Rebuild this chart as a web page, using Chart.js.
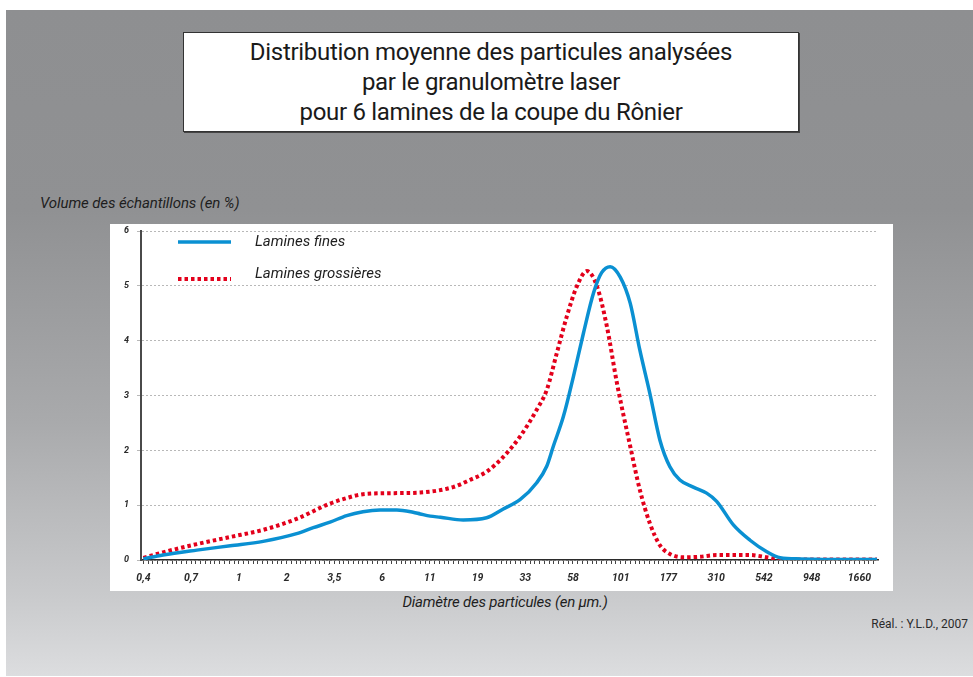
<!DOCTYPE html>
<html lang="fr">
<head>
<meta charset="utf-8">
<title>Distribution moyenne des particules</title>
<script src="https://cdn.jsdelivr.net/npm/chart.js@4.4.1/dist/chart.umd.min.js"></script>
<style>
  body { margin: 0; width: 973px; height: 677px; background: #fff; position: relative; overflow: hidden; font-family: Roboto, "Liberation Sans", sans-serif; }
  #fond { position: absolute; left: 6px; top: 10px; width: 967px; height: 666px;
    background: linear-gradient(to bottom, #8e8f91 0%, #909193 30%, #a9aaac 62%, #c9cacc 88%, #dcdddf 100%); }
  #titre { position: absolute; left: 183px; top: 32px; width: 616px; height: 100px; background: #fff;
    border: 1px solid #333; box-shadow: 1px 1px 0 #444; text-align: center; font-size: 24px; line-height: 30px;
    color: #1a1a1a; padding-top: 4px; box-sizing: border-box; letter-spacing: -0.3px; }
  #titreY { position: absolute; left: 40px; top: 194px; font-size: 15px; font-style: italic; color: #1e1e1e; letter-spacing: -0.1px; }
  #panneau { position: absolute; left: 110px; top: 224px; width: 783px; height: 367px; background: #fff; }
  #titreX { position: absolute; left: 305px; width: 400px; top: 593px; text-align: center; font-size: 15px; font-style: italic; color: #1e1e1e; letter-spacing: -0.2px; }
  #credit { position: absolute; right: 5px; top: 617px; font-size: 12px; color: #2a2a2a; }
</style>
</head>
<body>
<div id="fond"></div>
<div id="titre">Distribution moyenne des particules analysées<br>par le granulomètre laser<br>pour 6 lamines de la coupe du Rônier</div>
<div id="titreY">Volume des échantillons (en %)</div>
<div id="panneau"><canvas id="granuloChart" width="783" height="367"></canvas></div>
<div id="titreX">Diamètre des particules (en µm.)</div>
<div id="credit">Réal. : Y.L.D., 2007</div>

<script>
// Classes de diamètre (µm) : une graduation par classe, espacement logarithmique
const tickLabels = ['0,4', '0,7', '1', '2', '3,5', '6', '11', '19', '33', '58', '101', '177', '310', '542', '948', '1660'];

// Lamines fines : position (en rang de classe) et volume (%)
const finesPos = [0, 0.41, 1.12, 1.82, 2.51, 3.21, 3.56, 3.91, 4.26, 4.60, 4.96, 5.31, 5.65, 5.80, 6.01, 6.22,
  6.70, 7.19, 7.54, 7.89, 8.24, 8.45, 8.59, 8.80, 9.01, 9.22, 9.43, 9.60, 9.78, 9.99, 10.20, 10.40, 10.61,
  10.82, 11.03, 11.24, 11.52, 11.80, 12.01, 12.36, 12.71, 13.06, 13.34, 13.76, 14.6, 15.37];
const finesVol = [0.02, 0.09, 0.18, 0.26, 0.34, 0.48, 0.59, 0.69, 0.81, 0.88, 0.91, 0.91, 0.87, 0.84, 0.80, 0.78,
  0.73, 0.77, 0.93, 1.10, 1.41, 1.71, 2.08, 2.62, 3.35, 4.14, 4.87, 5.24, 5.35, 5.16, 4.68, 3.83, 3.04,
  2.19, 1.70, 1.46, 1.33, 1.22, 1.07, 0.64, 0.36, 0.15, 0.04, 0.02, 0.01, 0.01];

// Lamines grossières
const grossPos = [0, 0.41, 1.12, 1.82, 2.51, 3.21, 3.91, 4.26, 4.60, 5.31, 5.80, 6.49, 6.84, 7.19, 7.54, 7.89,
  8.24, 8.45, 8.66, 8.87, 9.08, 9.29, 9.50, 9.71, 9.92, 10.20, 10.40, 10.61, 10.82, 11.03, 11.31, 11.66,
  12.01, 12.71, 13.06, 13.34, 14.2, 15.37];
const grossVol = [0.04, 0.14, 0.29, 0.42, 0.55, 0.75, 1.03, 1.13, 1.20, 1.22, 1.23, 1.33, 1.46, 1.61, 1.88, 2.25,
  2.74, 3.10, 3.77, 4.44, 4.99, 5.27, 5.00, 4.26, 3.23, 2.07, 1.28, 0.67, 0.27, 0.11, 0.05, 0.06,
  0.09, 0.09, 0.05, 0.01, 0.01, 0.01];

const seriesNames = ['Lamines fines', 'Lamines grossières'];

const toPoints = (xs, ys) => xs.map((x, i) => ({ x: x, y: ys[i] }));

// Légende dessinée dans la zone du graphique, en haut à gauche
const legendeInterne = {
  id: 'legendeInterne',
  afterDatasetsDraw(chart) {
    const ctx = chart.ctx;
    const a = chart.chartArea;
    const rows = [{ y: a.top + 11, ty: a.top + 11 }, { y: a.top + 48, ty: a.top + 43 }];
    chart.data.datasets.forEach((ds, i) => {
      const r = rows[i];
      ctx.save();
      ctx.strokeStyle = ds.borderColor;
      ctx.lineWidth = ds.borderWidth;
      ctx.lineCap = 'butt';
      ctx.setLineDash(ds.borderDash || []);
      ctx.beginPath();
      ctx.moveTo(a.left + 37, r.y);
      ctx.lineTo(a.left + 90, r.y);
      ctx.stroke();
      ctx.setLineDash([]);
      ctx.fillStyle = '#1e1e1e';
      ctx.font = 'italic 15px Roboto, sans-serif';
      ctx.textBaseline = 'middle';
      ctx.fillText(ds.label, a.left + 114, r.ty);
      ctx.restore();
    });
  }
};

new Chart(document.getElementById('granuloChart'), {
  type: 'line',
  data: {
    datasets: [
      {
        label: seriesNames[0],
        data: toPoints(finesPos, finesVol),
        borderColor: '#0a90d2',
        borderWidth: 3.5,
        cubicInterpolationMode: 'monotone',
        pointRadius: 0,
        fill: false
      },
      {
        label: seriesNames[1],
        data: toPoints(grossPos, grossVol),
        borderColor: '#e3001b',
        borderWidth: 4,
        borderDash: [3.5, 3],
        borderCapStyle: 'butt',
        cubicInterpolationMode: 'monotone',
        pointRadius: 0,
        fill: false
      }
    ]
  },
  options: {
    responsive: false,
    animation: false,
    layout: { padding: { top: 7, right: 15, left: 0, bottom: 0 } },
    plugins: {
      legend: { display: false },
      tooltip: { enabled: false }
    },
    scales: {
      x: {
        type: 'linear',
        min: -0.05,
        max: 15.39,
        afterFit: (s) => { s.height = 31; },
        // dix sous-graduations par classe
        afterBuildTicks: (s) => {
          const ticks = [];
          for (let k = 0; k <= 153; k++) ticks.push({ value: k / 10 });
          s.ticks = ticks;
        },
        ticks: {
          autoSkip: false,
          maxRotation: 0,
          padding: 8,
          color: '#2a2a2a',
          font: { family: 'Roboto', size: 10.5, style: 'italic', weight: 'bold' },
          callback: function (v) {
            const t = Math.round(v * 10);
            return t % 10 === 0 && t / 10 < tickLabels.length ? tickLabels[t / 10] : '';
          }
        },
        grid: { drawOnChartArea: false, tickLength: 4, color: '#444', lineWidth: 1 },
        border: { color: '#2b2b2b', width: 1.6 }
      },
      y: {
        min: 0,
        max: 6,
        afterFit: (s) => { s.width = 31; s.paddingTop = 0; s.paddingBottom = 0; },
        ticks: {
          stepSize: 1,
          padding: 8,
          color: '#2a2a2a',
          font: { family: 'Roboto', size: 9, style: 'italic', weight: 'bold' }
        },
        grid: { color: '#b8b8b8', lineWidth: 1, tickLength: 4 },
        border: { color: '#4a4a4a', width: 2, dash: [2, 2] }
      }
    }
  },
  plugins: [legendeInterne]
});
</script>
</body>
</html>
